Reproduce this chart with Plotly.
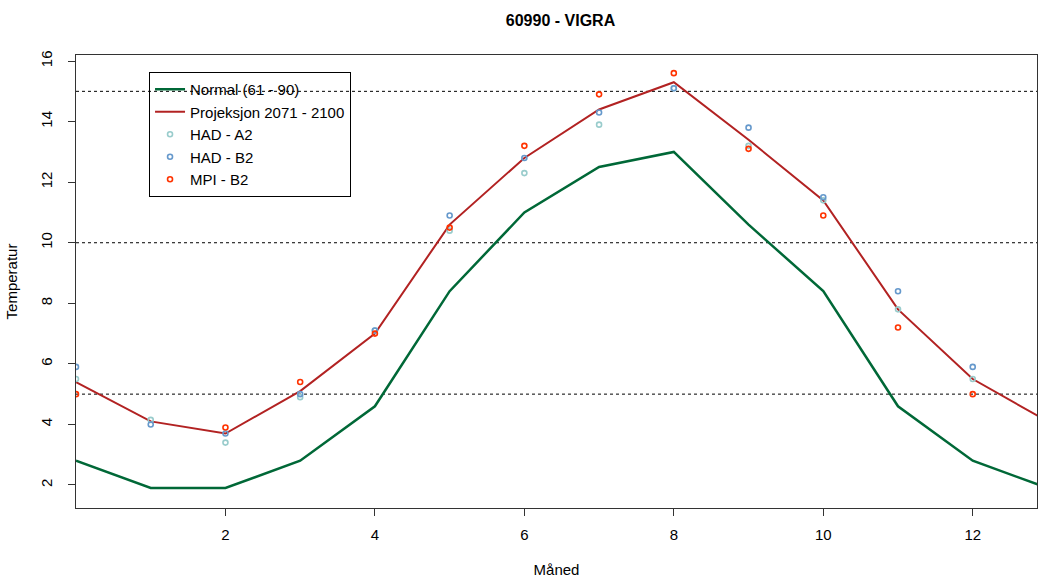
import plotly.graph_objects as go

# month index 0 = December (previous year), 1..12 = Jan..Dec, 13 = January (next year)
months = list(range(0, 14))
normal = [2.8, 1.9, 1.9, 2.8, 4.6, 8.4, 11.0, 12.5, 13.0, 10.6, 8.4, 4.6, 2.8, 1.9]
projeksjon = [5.4, 4.1, 3.7, 5.1, 7.0, 10.6, 12.8, 14.4, 15.3, 13.4, 11.4, 7.8, 5.5, 4.1]

pt_months = list(range(0, 13))
had_a2 = [5.5, 4.15, 3.4, 4.9, 7.1, 10.4, 12.3, 13.9, 15.1, 13.2, 11.4, 7.8, 5.5]
had_b2 = [5.9, 4.0, 3.7, 5.0, 7.1, 10.9, 12.8, 14.3, 15.1, 13.8, 11.5, 8.4, 5.9]
mpi_b2 = [5.0, None, 3.9, 5.4, 7.0, 10.5, 13.2, 14.9, 15.6, 13.1, 10.9, 7.2, 5.0]

ref_lines = [5, 10, 15]
x_ticks = [2, 4, 6, 8, 10, 12]
y_ticks = [2, 4, 6, 8, 10, 12, 14, 16]

fig = go.Figure()
fig.add_trace(go.Scatter(x=months, y=normal, mode="lines", name="Normal (61 - 90)",
                         line=dict(color="#006837", width=2.5)))
fig.add_trace(go.Scatter(x=months, y=projeksjon, mode="lines", name="Projeksjon 2071 - 2100",
                         line=dict(color="#B22222", width=2)))
marker_common = dict(symbol="circle-open", size=5)
fig.add_trace(go.Scatter(x=pt_months, y=had_a2, mode="markers", name="HAD - A2",
                         marker=dict(color="#99CCCC", line=dict(width=1.6), **marker_common)))
fig.add_trace(go.Scatter(x=pt_months, y=had_b2, mode="markers", name="HAD - B2",
                         marker=dict(color="#6699CC", line=dict(width=1.6), **marker_common)))
fig.add_trace(go.Scatter(x=pt_months, y=mpi_b2, mode="markers", name="MPI - B2",
                         marker=dict(color="#FF3300", line=dict(width=1.6), **marker_common)))

for v in ref_lines:
    fig.add_hline(y=v, line=dict(color="black", width=1, dash="dot"), layer="below")

fig.update_layout(
    width=1038, height=578,
    margin=dict(l=76, r=1, t=55, b=70, autoexpand=False),
    plot_bgcolor="white", paper_bgcolor="white",
    font=dict(family="Liberation Sans, Arial, sans-serif", size=14, color="black"),
    title=dict(text="<b>60990 - VIGRA</b>", x=0.54, xanchor="center", y=0.965, yanchor="middle",
               font=dict(size=16)),
    showlegend=True,
    legend=dict(x=0.076, y=0.9625, xanchor="left", yanchor="top",
                bordercolor="black", borderwidth=1, bgcolor="rgba(255,255,255,0)",
                font=dict(size=15), tracegroupgap=0, itemwidth=30),
    xaxis=dict(range=[0, 12.86], tickvals=x_ticks, showgrid=False, zeroline=False,
               showline=True, mirror=True, linecolor="#333333", linewidth=1,
               ticks="outside", ticklen=7, tickcolor="#333333", automargin=False,
               tickfont=dict(size=15), ticklabelstandoff=6,
               title=dict(text="Måned", standoff=28, font=dict(size=15))),
    yaxis=dict(range=[1.24, 16.2], tickvals=y_ticks, showgrid=False, zeroline=False,
               showline=True, mirror=True, linecolor="#333333", linewidth=1,
               ticks="outside", ticklen=7, tickcolor="#333333", tickangle=-90, automargin=False,
               tickfont=dict(size=15), ticklabelstandoff=10,
               title=dict(text="Temperatur", standoff=16, font=dict(size=15))),
)

fig.write_html("out.html")
